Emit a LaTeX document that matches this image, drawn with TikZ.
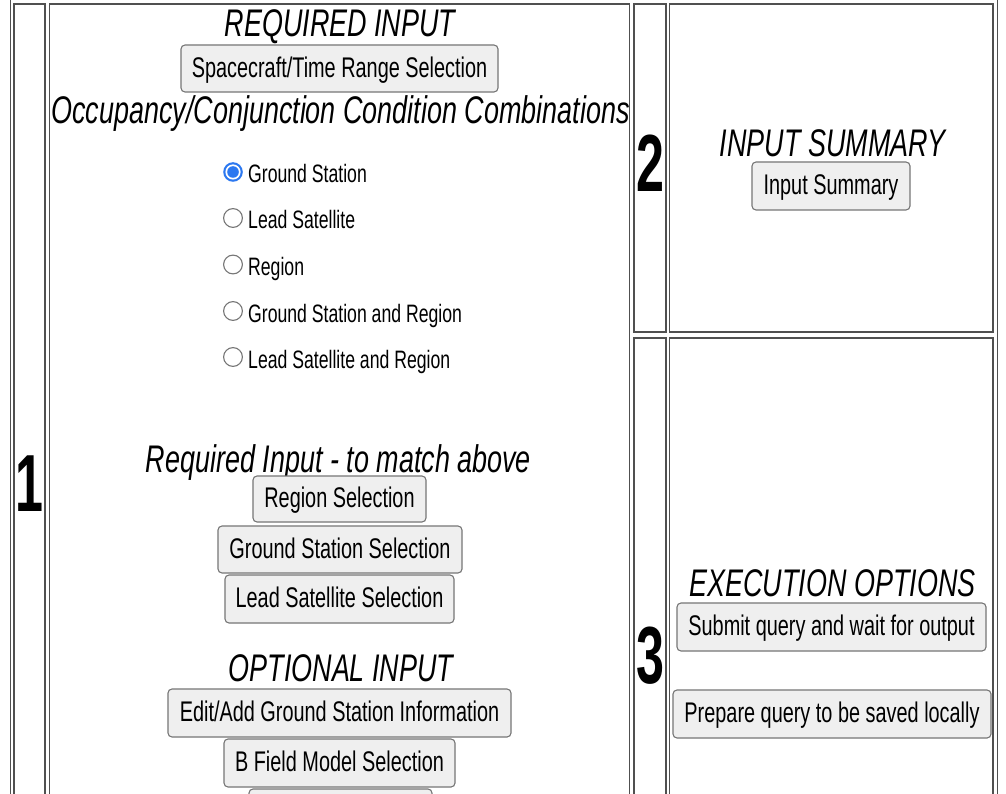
\documentclass[tikz,border=0pt]{standalone}
\usepackage{fontspec}
\setmainfont{Liberation Sans}[FakeStretch=0.70]
\newfontfamily\digitfont{Liberation Sans}[FakeStretch=0.62]
\definecolor{radioblue}{RGB}{44,120,240}
\definecolor{btnfill}{RGB}{239,239,239}
\definecolor{btnline}{RGB}{118,118,118}
\definecolor{cellline}{RGB}{80,80,80}
\tikzset{
  tableline/.style={draw=cellline, line width=1.2pt},
  btn/.style={draw=btnline, fill=btnfill, rounded corners=4pt, line width=1.1pt,
    inner sep=0pt, font=\fontsize{28.4}{31}\selectfont,
    text height=20.3pt, text depth=3pt},
  heading/.style={anchor=base, inner sep=0pt, font=\fontsize{38.5}{42}\selectfont\itshape},
  radiolabel/.style={anchor=base west, inner sep=0pt, font=\fontsize{25.2}{29}\selectfont},
  digit/.style={anchor=base, inner sep=0pt, font=\fontsize{81}{90}\selectfont\digitfont\bfseries},
  radiooff/.style={draw=btnline, fill=white, line width=1.1pt},
}
\begin{document}
\begin{tikzpicture}[x=1pt,y=-1pt]
\useasboundingbox (0,0) rectangle (1006,794);
\clip (0,0) rectangle (1006,794);
\fill[white] (0,0) rectangle (1006,794);
% table frame
\draw[tableline] (10.5,-5) rectangle (997.5,900);
\draw[tableline] (14,4) rectangle (45,900);
\draw[tableline] (49.5,4) rectangle (629.5,900);
\draw[tableline] (634,4) rectangle (666,332);
\draw[tableline] (669.5,4) rectangle (993,332);
\draw[tableline] (634,338) rectangle (666,900);
\draw[tableline] (669.5,338) rectangle (993,900);
% digits
\node[digit] (d1) at (29,511) {1};
\node[digit] (d2) at (650,192) {2};
\node[digit] (d3) at (650,683) {3};
% section 1
\node[heading] (reqin) at (340,37) {REQUIRED INPUT};
\node[btn, minimum width=317pt, minimum height=47pt] (sc) at (339.5,68.5) {Spacecraft/Time Range Selection};
\node[heading] (occ) at (340.5,124) {Occupancy/Conjunction Condition Combinations};
% radio buttons
\fill[radioblue] (233,172) circle (9.8);
\fill[white] (233,172) circle (7.6);
\fill[radioblue] (233,172) circle (5.8);
\draw[radiooff] (233,218) circle (9.4);
\draw[radiooff] (233,264.5) circle (9.4);
\draw[radiooff] (233,311) circle (9.4);
\draw[radiooff] (233,357) circle (9.4);
\node[radiolabel] (r1) at (248,183) {Ground Station};
\node[radiolabel] (r2) at (248,229) {Lead Satellite};
\node[radiolabel] (r3) at (248,275.5) {Region};
\node[radiolabel] (r4) at (248,322) {Ground Station and Region};
\node[radiolabel] (r5) at (248,368) {Lead Satellite and Region};
% required input
\node[heading] (reqmatch) at (338.5,472) {Required Input - to match above};
\node[btn, minimum width=173pt, minimum height=46pt] (regsel) at (339.5,499) {Region Selection};
\node[btn, minimum width=244pt, minimum height=47pt] (gssel) at (340,549.5) {Ground Station Selection};
\node[btn, minimum width=229pt, minimum height=48pt] (lssel) at (339.5,599) {Lead Satellite Selection};
% optional input
\node[heading] (optin) at (341,681) {OPTIONAL INPUT};
\node[btn, minimum width=343pt, minimum height=48pt] (editgs) at (339.5,713) {Edit/Add Ground Station Information};
\node[btn, minimum width=231pt, minimum height=48pt] (bfield) at (339.5,763) {B Field Model Selection};
\node[btn, minimum width=183pt, minimum height=48pt] (partial) at (340.5,813) {};
% section 2
\node[heading] (insum) at (832.5,157) {INPUT SUMMARY};
\node[btn, minimum width=158pt, minimum height=48pt] (insumbtn) at (831,186) {Input Summary};
% section 3
\node[heading] (exec) at (832.5,596) {EXECUTION OPTIONS};
\node[btn, minimum width=309pt, minimum height=48pt] (submit) at (831.5,627) {Submit query and wait for output};
\node[btn, minimum width=318pt, minimum height=48pt] (prepare) at (832,714) {Prepare query to be saved locally};
\end{tikzpicture}
\end{document}
